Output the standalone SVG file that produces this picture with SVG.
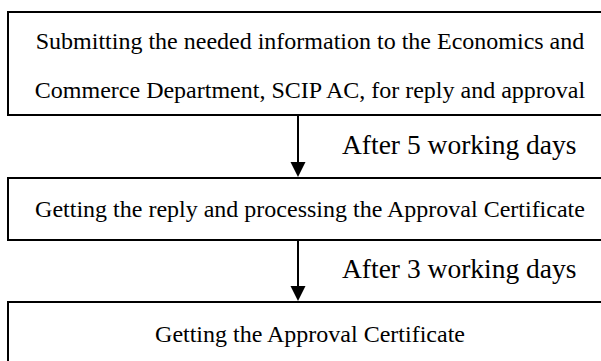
<svg xmlns="http://www.w3.org/2000/svg" width="601" height="361" viewBox="0 0 601 361">
<defs>
<style>
.box{fill:#fff;stroke:#000;stroke-width:2}
.t{font-family:"Liberation Serif","Times New Roman",serif;font-size:24px;fill:#000;text-anchor:middle}
.lab{font-family:"Liberation Serif","Times New Roman",serif;font-size:27.5px;fill:#000}
.conn{stroke:#000;stroke-width:2;fill:none}
.head{fill:#000}
</style>
</defs>
<rect width="601" height="361" fill="#fff"/>
<g id="node1">
<rect class="box" x="8" y="12" width="600" height="103"/>
<text class="t" x="310" y="49">Submitting the needed information to the Economics and</text>
<text class="t" x="310" y="98">Commerce Department, SCIP AC, for reply and approval</text>
</g>
<g id="node2">
<rect class="box" x="8" y="178" width="600" height="62"/>
<text class="t" x="310" y="217">Getting the reply and processing the Approval Certificate</text>
</g>
<g id="node3">
<rect class="box" x="8" y="302" width="600" height="80"/>
<text class="t" x="310" y="342">Getting the Approval Certificate</text>
</g>
<g id="connectors">
<line class="conn" x1="298" y1="115" x2="298" y2="163"/>
<path class="head" d="M290.5,162 L305.5,162 L298,177 Z"/>
<text class="lab" x="342" y="154">After 5 working days</text>
<line class="conn" x1="298" y1="240" x2="298" y2="287"/>
<path class="head" d="M290.5,286 L305.5,286 L298,301 Z"/>
<text class="lab" x="342" y="278">After 3 working days</text>
</g>
</svg>
